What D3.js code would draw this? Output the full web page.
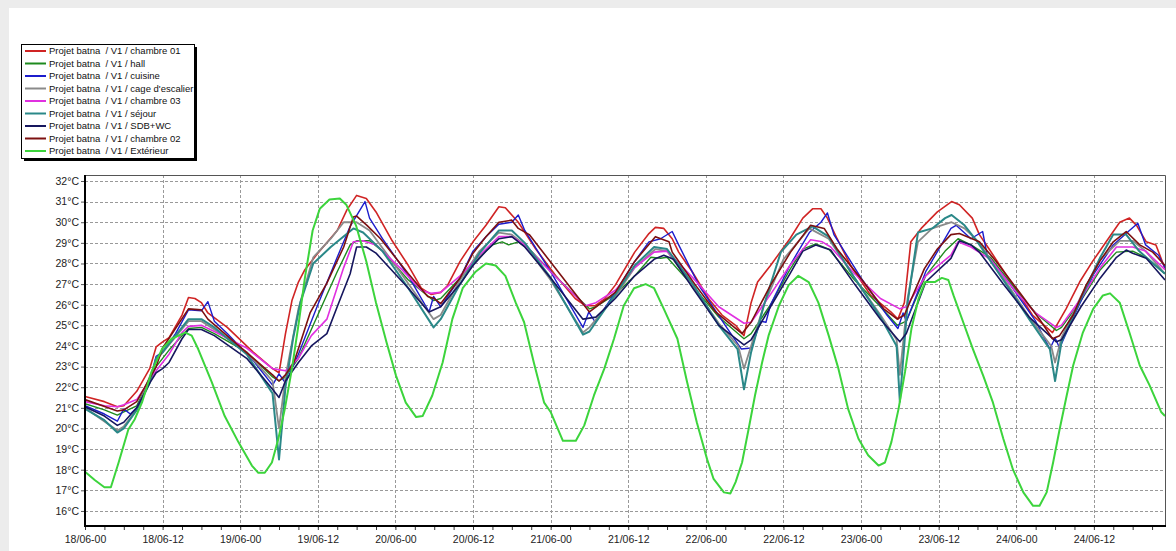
<!DOCTYPE html>
<html>
<head>
<meta charset="utf-8">
<script src="https://cdn.jsdelivr.net/npm/d3@7"></script>
<style>
  body { margin: 0; background: #fff; }
  svg { display: block; font-family: Arial, "Liberation Sans", sans-serif; }
  .grid line { stroke: #999; stroke-dasharray: 3,2; shape-rendering: crispEdges; }
  .legend text { white-space: pre; }
</style>
</head>
<body>
<svg id="chart" width="1176" height="551"></svg>
<script>
// hours since 18/06 00:00, temperature in °C
var chambre01 = [[0,21.55],[3,21.3],[5,21.05],[6,21.1],[8,21.8],[10,22.9],[11,23.95],[12,24.2],[13,24.4],[15,25.5],[16,26.35],[17,26.3],[18,26.1],[19,25.6],[22,24.9],[26,23.7],[29,22.9],[30,22.7],[31,24.6],[32,26.2],[33,27.1],[34,27.7],[36,28.5],[39,29.6],[40.5,30.6],[42,31.3],[43.5,31.15],[45,30.5],[47.5,29.1],[50,27.9],[52,26.8],[53.5,26.5],[55,26.6],[56,26.9],[58,28.1],[60,29.05],[62,29.85],[64,30.75],[65,30.7],[67,30.0],[69.7,28.7],[72.8,27.4],[75.8,26.3],[77.4,25.95],[78.9,25.95],[80.4,26.3],[82,26.95],[85,28.55],[87.2,29.45],[88.2,29.75],[89.5,29.7],[90.8,29.2],[91.8,28.55],[93.9,27.6],[96.4,26.3],[98.5,25.5],[100.6,25.0],[101.9,24.5],[103,26.1],[104,27.1],[106,27.9],[109,29.2],[111,30.2],[112.5,30.65],[113.8,30.65],[114.8,30.2],[116.3,29.2],[118.4,27.9],[121.5,26.45],[124.6,25.65],[125.7,25.3],[126.7,26.1],[127.7,29.05],[129.3,29.7],[131.8,30.5],[134,31.0],[135.2,30.85],[137.2,30.2],[138.3,29.4],[139.8,28.7],[143.5,26.95],[146.5,25.5],[149.6,24.65],[151.7,25.8],[153.8,27.1],[155.8,28.1],[157.9,29.05],[160,30.0],[161.5,30.2],[162.6,29.85],[164.1,29.05],[165.6,28.9],[167,27.75]];
var hall = [[0,21.2],[3,20.9],[5,20.65],[6,20.8],[8,21.1],[11,23.0],[13,23.8],[16,24.85],[18,24.9],[20,24.6],[25,23.7],[29,22.5],[30,22.3],[31,22.5],[33,23.4],[36,25.5],[39,27.6],[41,28.9],[42,29.1],[44,29.1],[46,28.6],[50,27.2],[53.9,26.2],[55,26.3],[58,27.3],[61,28.3],[63,28.9],[64.5,29.05],[65.5,28.9],[67,29.05],[69,28.6],[73,27.3],[78,25.8],[79,25.9],[82,26.5],[85,27.4],[87.5,28.3],[89,28.25],[90,28.3],[94,26.9],[98,25.4],[101.9,24.35],[103,24.6],[106,26.0],[109,27.7],[111,28.7],[113,28.95],[115,28.7],[119,27.2],[123,25.9],[125.6,25.0],[127,25.2],[130,27.4],[133,28.6],[135,29.2],[137,28.9],[140,28.3],[144,26.7],[147,25.6],[150.2,24.75],[151,24.9],[154,26.2],[157,27.7],[159.5,28.55],[162,28.6],[164,28.3],[167,27.5]];
var cuisine = [[0,21.1],[3,20.7],[5,20.35],[6,20.95],[7,20.7],[8,21.0],[10,22.3],[11,23.5],[12,23.7],[14,24.6],[16,25.75],[18,25.7],[19,26.15],[20,25.2],[22,24.6],[26,23.3],[29,22.1],[30,22.65],[31,22.2],[33,23.6],[36,26.0],[39,28.3],[41,29.8],[43.3,31.0],[44,30.2],[46,29.2],[50,27.4],[53.2,25.65],[53.9,26.4],[55,25.9],[58,27.3],[60,28.6],[62,29.3],[64,29.9],[66,30.0],[67,30.35],[68,29.6],[72,27.6],[77,24.9],[77.9,25.65],[78.9,25.15],[82,26.6],[85,28.1],[87.2,29.05],[89,29.2],[90.8,29.55],[91.8,28.9],[95,26.9],[99,25.0],[101.5,23.85],[103,23.9],[104.5,25.2],[105.3,25.15],[106,26.0],[109,27.9],[112,29.5],[113.8,30.0],[114.8,30.45],[115.8,29.4],[120,27.3],[124,25.5],[125.7,24.85],[126.5,25.6],[127,25.2],[130,27.6],[133.9,29.7],[134.7,29.85],[137,29.2],[138.8,29.55],[139.5,28.4],[143,27.0],[147,25.2],[149.2,23.85],[150,24.4],[150.7,23.9],[153,25.5],[156,27.5],[159,28.9],[161.5,29.6],[162.8,29.95],[164,28.9],[166,28.4],[167,27.8]];
var cageEscalier = [[0,21.0],[5,19.9],[6,20.1],[8,20.9],[11,23.3],[16,25.2],[18,25.2],[20,24.8],[25,23.7],[29,22.3],[30,20.0],[31,22.5],[33,25.8],[35.3,28.3],[38,29.2],[40,30.0],[42,30.0],[44,29.6],[48,27.9],[53.9,25.3],[55,25.5],[58,27.2],[61,28.6],[64,29.5],[66,29.4],[68,28.9],[72,27.2],[77,24.65],[78,24.9],[82,26.4],[85,27.8],[88.2,28.7],[90,28.6],[94,26.9],[98,25.1],[101,24.0],[101.9,22.9],[103,24.0],[105,26.0],[108,28.2],[112,29.7],[115,29.2],[119,27.3],[123,25.5],[125.5,24.3],[126,22.6],[127.2,26.3],[128.8,29.05],[131,29.7],[134,30.0],[136,29.7],[138,29.1],[142,27.3],[146,25.4],[149.4,24.0],[150,23.2],[151,24.4],[154,26.4],[157,28.2],[160,29.1],[162,29.1],[164,28.6],[167,27.5]];
var chambre03 = [[0,21.3],[3,21.1],[5,21.05],[6,21.15],[8,21.4],[11,22.8],[13,23.6],[15,24.65],[16,24.95],[18,25.0],[20,24.7],[25,23.9],[29,22.9],[31,22.8],[33,23.4],[35,24.5],[37.4,25.3],[40,27.8],[41.5,29.05],[43,29.1],[45,28.9],[49,27.7],[52,26.7],[53.5,26.55],[55,26.6],[58,27.4],[61,28.4],[64,29.3],[66,29.3],[68,28.9],[72,27.6],[77.4,25.95],[79,26.1],[82,26.7],[85,27.8],[88,28.55],[90,28.6],[94,27.3],[98,25.9],[101.9,25.1],[103,25.15],[106,26.5],[109,27.9],[112.2,29.15],[114,29.05],[115.3,28.8],[119,27.5],[123,26.3],[126,25.8],[127,25.9],[130,27.4],[133.9,28.4],[135,29.05],[137,28.8],[140,28.2],[144,26.6],[147,25.6],[150.2,24.9],[151,25.0],[154,26.3],[157,27.8],[159.5,28.8],[162,28.8],[164,28.6],[167,27.7]];
var sejour = [[0,20.95],[3,20.4],[5,19.8],[6,20.0],[8,20.9],[10,22.2],[11,23.4],[12,23.7],[14,24.5],[16,25.3],[18,25.3],[20,24.9],[25,23.6],[29,21.7],[30,18.5],[31,22.0],[32.2,24.4],[33.3,26.1],[35.3,28.0],[38,28.8],[41.5,29.7],[43,29.5],[46,28.6],[50,26.8],[53.9,24.9],[55,25.3],[58,27.0],[61,28.5],[64,29.6],[66,29.6],[68,29.0],[72,27.3],[77,24.55],[78,24.7],[82,26.5],[85,27.9],[88,28.8],[90,28.7],[94,27.0],[98,25.0],[100.9,23.85],[101.9,21.9],[103,23.7],[105,26.0],[107.6,28.55],[110,29.4],[112.5,29.8],[115,29.3],[119,27.3],[123,25.4],[125.5,24.0],[126,21.3],[127.2,26.1],[128.8,29.5],[131,29.7],[133,30.2],[134,30.35],[136,29.85],[138,29.05],[142,27.2],[146,25.3],[149.2,23.85],[150,22.3],[151,24.2],[154,26.3],[157,28.3],[159,29.4],[161,29.4],[163,28.6],[167,27.5]];
var sdbWc = [[0,21.05],[3,20.6],[5,20.15],[6,20.3],[8,21.0],[10,22.2],[11,22.7],[12,22.9],[13,23.2],[15,24.35],[16,24.8],[18,24.8],[20,24.5],[25,23.4],[29,21.9],[30,21.5],[31,22.3],[33,23.2],[35,24.0],[37.4,24.6],[39,25.9],[41,27.5],[42,28.8],[43.5,28.8],[45,28.5],[50,26.8],[53.2,25.65],[55,25.9],[58,27.0],[60,27.9],[62,28.6],[64,29.2],[66,29.3],[68,28.8],[72,27.3],[77,25.3],[79,25.4],[82,26.3],[85,27.4],[88,28.2],[89.5,28.4],[91,28.2],[94,26.8],[98,25.0],[101.9,24.05],[103,24.3],[106,25.9],[109,27.5],[111,28.6],[113,28.9],[115.3,28.65],[119,27.0],[123,25.3],[126,24.2],[127,24.6],[130,27.1],[133.9,28.25],[135.2,29.1],[137,28.9],[138.3,28.55],[142,27.0],[146,25.4],[150.2,24.2],[151,24.3],[154,25.9],[157,27.3],[159.5,28.3],[161,28.65],[162,28.5],[164.1,28.25],[167,27.2]];
var chambre02 = [[0,21.4],[5,20.85],[6,20.9],[8,21.3],[11,23.0],[12,23.9],[16,25.8],[18,25.75],[19,25.3],[29,22.6],[30,22.3],[31,22.6],[32.3,23.2],[34.8,25.6],[37.4,27.05],[40,28.8],[41.5,30.25],[42,30.3],[43.6,29.85],[45.7,29.2],[50,27.5],[53,26.4],[54,26.3],[55,26.05],[58,27.3],[60,28.5],[62,29.3],[64,30.0],[66,30.1],[67,29.7],[68.7,29.4],[78,25.65],[82,26.6],[85,28.1],[88.2,29.3],[90.3,29.05],[90.8,28.55],[94.4,26.95],[97.5,25.65],[100.6,24.85],[101.6,24.6],[103,25.15],[106,26.95],[109.1,28.55],[112.2,29.85],[114.3,29.7],[116.3,28.7],[120.4,27.1],[123.5,25.8],[125.6,25.3],[126.7,25.5],[129.8,27.75],[131.8,28.7],[133.9,29.4],[135.2,29.45],[138.3,29.05],[140.9,28.1],[144.5,26.6],[147.6,25.3],[149.6,24.35],[150.7,24.5],[152.8,25.5],[154.8,26.95],[156.9,28.1],[159,29.05],[161,29.55],[163.1,28.9],[165.1,28.55],[167,27.9]];
var exterieur = [[0,17.9],[1.5,17.5],[3,17.15],[4,17.15],[5.2,18.35],[6.7,19.95],[7.7,20.45],[8.8,21.25],[10.3,22.75],[11.9,23.85],[13.4,24.35],[15.5,24.65],[16.5,24.5],[17.5,23.85],[19.6,22.25],[21.6,20.6],[23.7,19.35],[25.8,18.2],[26.8,17.85],[27.8,17.85],[28.9,18.35],[29.9,19.5],[30.9,20.95],[32,22.9],[33,25.0],[34,27.3],[35.2,29.6],[36.3,30.65],[37.8,31.1],[39.4,31.15],[40.4,30.85],[41.9,29.85],[43.5,28.1],[45,26.1],[46.6,24.2],[48.1,22.55],[49.6,21.25],[51.2,20.55],[52.2,20.6],[53.7,21.6],[55.3,23.2],[56.8,25.3],[58.4,26.8],[60.4,27.6],[62,28.0],[63.5,27.9],[65,27.4],[66.6,26.1],[67.9,25.15],[69.4,23.2],[71,21.25],[72,20.8],[73.9,19.4],[75.9,19.4],[77.2,20.15],[78.7,21.6],[80.3,22.9],[81.8,24.35],[83.3,25.95],[84.9,26.8],[86.7,27.0],[88,26.8],[89.5,25.8],[91.6,24.35],[93.1,22.25],[94.6,20.3],[96.2,18.5],[97.2,17.55],[98.8,16.9],[99.8,16.85],[100.6,17.4],[101.6,18.35],[102.6,19.95],[103.6,21.6],[104.7,23.2],[105.7,24.5],[107.3,25.95],[108.8,26.95],[110.3,27.4],[111.9,27.1],[113.4,26.1],[115,24.5],[116.5,22.9],[118,20.95],[119.6,19.5],[121.1,18.7],[122.7,18.2],[123.7,18.35],[124.7,19.35],[125.8,20.95],[126.8,22.75],[127.8,24.85],[128.9,26.3],[129.9,27.1],[131.4,27.1],[132.5,27.3],[133.5,27.2],[134.3,26.45],[135.8,25.15],[137.3,23.85],[138.9,22.55],[140.4,21.25],[142,19.5],[143.5,18.0],[145.1,16.9],[146.6,16.25],[147.6,16.25],[148.7,16.9],[149.7,18.35],[150.7,19.95],[151.8,21.6],[152.8,23.05],[154.3,24.65],[155.9,25.8],[157.4,26.45],[158.5,26.55],[160,26.1],[161.5,24.65],[163.1,23.05],[164.6,22.1],[166.4,20.8],[167,20.6]];

var seriesNames = [
  "Projet batna  / V1 / chambre 01",
  "Projet batna  / V1 / hall",
  "Projet batna  / V1 / cuisine",
  "Projet batna  / V1 / cage d'escalier",
  "Projet batna  / V1 / chambre 03",
  "Projet batna  / V1 / séjour",
  "Projet batna  / V1 / SDB+WC",
  "Projet batna  / V1 / chambre 02",
  "Projet batna  / V1 / Extérieur"
];
var seriesData = [chambre01, hall, cuisine, cageEscalier, chambre03, sejour, sdbWc, chambre02, exterieur];

var xTickHours = [0, 12, 24, 36, 48, 60, 72, 84, 96, 108, 120, 132, 144, 156];
var xTickLabels = ["18/06-00", "18/06-12", "19/06-00", "19/06-12", "20/06-00", "20/06-12", "21/06-00",
                   "21/06-12", "22/06-00", "22/06-12", "23/06-00", "23/06-12", "24/06-00", "24/06-12"];
var yTicks = [16, 17, 18, 19, 20, 21, 22, 23, 24, 25, 26, 27, 28, 29, 30, 31, 32];

// styles
var seriesColors = ["#d02424", "#1e8a1e", "#1c1ccc", "#8a8a8a", "#e030e0", "#2a8888", "#16165e", "#7c1010", "#3cd43c"];
var seriesWidths = [1.6, 1.4, 1.4, 1.8, 1.6, 2, 1.6, 1.6, 2];

var plot = { left: 85, right: 1165, top: 175, bottom: 526 };

var svg = d3.select("#chart");

// grey window edge
svg.append("rect").attr("x", 0).attr("y", 0).attr("width", 1176).attr("height", 8).attr("fill", "#ececec");
svg.append("rect").attr("x", 0).attr("y", 0).attr("width", 9).attr("height", 551).attr("fill", "#ececec");

var x = d3.scaleLinear().domain([0, 167]).range([plot.left, plot.right]);
var y = d3.scaleLinear().domain([15.27, 32.29]).range([plot.bottom, plot.top]);

// grid
var grid = svg.append("g").attr("class", "grid");
grid.selectAll("line.h")
    .data(yTicks)
    .enter().append("line")
      .attr("class", "h")
      .attr("x1", plot.left).attr("x2", plot.right)
      .attr("y1", function(d) { return Math.round(y(d)) + 0.5; })
      .attr("y2", function(d) { return Math.round(y(d)) + 0.5; });
grid.selectAll("line.v")
    .data(xTickHours.slice(1))
    .enter().append("line")
      .attr("class", "v")
      .attr("x1", function(d) { return Math.round(x(d)) + 0.5; })
      .attr("x2", function(d) { return Math.round(x(d)) + 0.5; })
      .attr("y1", plot.top).attr("y2", plot.bottom + 4);

// top and right frame
svg.append("path")
    .attr("d", "M" + plot.left + "," + (plot.top + 0.5) + "H" + (plot.right + 0.5) + "V" + plot.bottom)
    .attr("fill", "none")
    .attr("stroke", "#555")
    .attr("stroke-width", 1);

// series
var line = d3.line()
    .x(function(d) { return x(d[0]); })
    .y(function(d) { return y(d[1]); });

var clip = svg.append("clipPath").attr("id", "plotclip")
    .append("rect")
      .attr("x", plot.left).attr("y", plot.top)
      .attr("width", plot.right - plot.left).attr("height", plot.bottom - plot.top);

svg.append("g")
    .attr("clip-path", "url(#plotclip)")
    .selectAll("path")
    .data(seriesData)
    .enter().append("path")
      .attr("d", line)
      .attr("fill", "none")
      .attr("stroke", function(d, i) { return seriesColors[i]; })
      .attr("stroke-width", function(d, i) { return seriesWidths[i]; })
      .attr("stroke-linejoin", "round");

// axes
var minorTicks = d3.range(0, 168, 3);
var xMinor = d3.axisBottom(x).tickValues(minorTicks).tickSize(4).tickSizeOuter(0).tickFormat("");
svg.append("g")
    .attr("transform", "translate(0," + plot.bottom + ")")
    .call(xMinor)
    .call(function(g) { g.select(".domain").remove(); })
    .selectAll("line").attr("stroke", "#333");

var xAxis = d3.axisBottom(x)
    .tickValues(xTickHours)
    .tickSize(0)
    .tickPadding(10)
    .tickFormat(function(d, i) { return xTickLabels[i]; });
var xg = svg.append("g")
    .attr("transform", "translate(0," + plot.bottom + ")")
    .call(xAxis);
xg.select(".domain").remove();
xg.selectAll("text").attr("font-size", 10.5).attr("fill", "#222").attr("font-family", "Arial, 'Liberation Sans', sans-serif");

var yAxis = d3.axisLeft(y)
    .tickValues(yTicks)
    .tickSize(4)
    .tickPadding(2)
    .tickFormat(function(d) { return d + "°C"; });
var yg = svg.append("g")
    .attr("transform", "translate(" + plot.left + ",0)")
    .call(yAxis);
yg.select(".domain").remove();
yg.selectAll("line").attr("stroke", "#555");
yg.selectAll("text").attr("font-size", 10.5).attr("fill", "#222").attr("font-family", "Arial, 'Liberation Sans', sans-serif");

// thick left and bottom frame
svg.append("path")
    .attr("d", "M" + plot.left + "," + plot.top + "V" + plot.bottom + "H" + (plot.right + 1))
    .attr("fill", "none")
    .attr("stroke", "#000")
    .attr("stroke-width", 2);

// legend
var legend = svg.append("g").attr("class", "legend");
var lb = { x: 21, y: 44, w: 173, h: 114 };
legend.append("rect")
    .attr("x", lb.x + 3).attr("y", lb.y + 3).attr("width", lb.w).attr("height", lb.h)
    .attr("fill", "#000");
legend.append("rect")
    .attr("x", lb.x + 0.5).attr("y", lb.y + 0.5).attr("width", lb.w).attr("height", lb.h)
    .attr("fill", "#fff").attr("stroke", "#000");

var items = legend.selectAll("g.item")
    .data(seriesNames)
    .enter().append("g")
      .attr("class", "item")
      .attr("transform", function(d, i) { return "translate(0," + (51 + i * 12.5) + ")"; });
items.append("line")
    .attr("x1", 25).attr("x2", 46)
    .attr("stroke", function(d, i) { return seriesColors[i]; })
    .attr("stroke-width", 2);
items.append("text")
    .attr("x", 49)
    .attr("dy", "0.35em")
    .attr("font-size", 9.5)
    .attr("fill", "#111")
    .text(function(d) { return d; });
</script>
</body>
</html>
